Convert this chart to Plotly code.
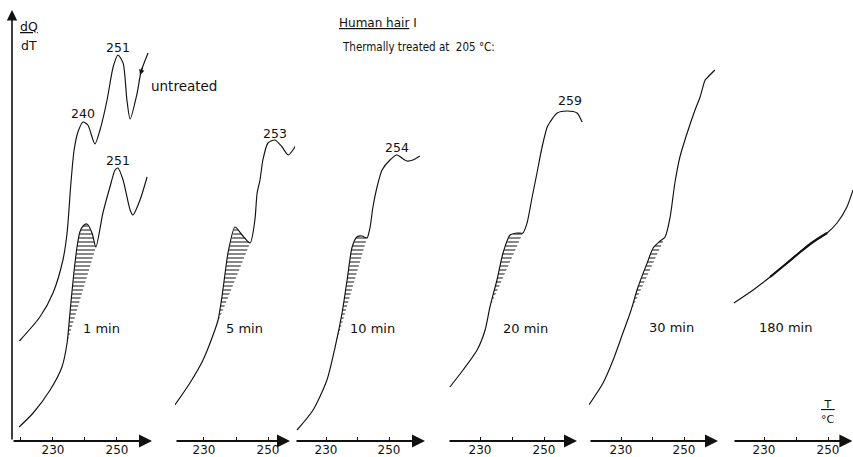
import numpy as np
import plotly.graph_objects as go

# ---------------- data (T in °C, dQ/dT in arbitrary units) ----------------
T_untreated = [219.5, 225.9, 230.0, 233.1, 234.4, 235.6, 236.6, 237.8, 239.4, 240.9, 243.1, 244.7,
               246.9, 248.8, 250.3, 251.9, 253.1, 254.1, 256.3, 257.5, 259.7]
Q_untreated = [10.0, 12.4, 14.8, 18.1, 20.8, 25.8, 29.1, 30.9, 31.9, 31.6, 29.7, 31.1,
               34.1, 37.4, 38.6, 37.8, 34.1, 32.2, 34.8, 36.9, 38.8]

T_1min = [219.4, 223.8, 229.1, 232.8, 234.4, 235.3, 236.3, 237.5, 238.4, 239.4, 240.6, 242.2, 243.4,
          245.6, 247.8, 249.4, 250.3, 251.9, 254.1, 255.0, 257.2, 259.4]
Q_1min = [1.4, 2.8, 5.1, 7.4, 9.8, 12.8, 16.1, 19.4, 20.9, 21.5, 21.7, 20.8, 19.4,
          22.8, 25.4, 27.1, 27.3, 26.1, 23.1, 22.6, 24.1, 26.4]

T_5min = [220.9, 225.6, 229.7, 233.4, 234.4, 235.6, 236.6, 237.5, 239.7, 241.9, 244.4, 245.9, 246.6,
          247.5, 248.4, 250.0, 252.2, 254.4, 256.3, 257.8, 259.1]
Q_5min = [3.6, 5.8, 8.1, 11.1, 12.1, 14.4, 16.8, 18.8, 21.4, 20.6, 19.8, 22.1, 24.8,
          26.1, 28.1, 29.8, 30.1, 29.4, 28.6, 29.1, 29.8]

T_10min = [220.8, 225.9, 230.3, 232.9, 235.1, 236.7, 238.3, 239.8, 241.4, 243.0, 244.0, 244.9,
           246.2, 247.8, 250.3, 252.5, 254.1, 255.7, 257.6, 259.8]
Q_10min = [1.1, 3.1, 6.1, 9.4, 12.8, 16.1, 19.4, 20.4, 20.5, 20.3, 21.4, 23.4,
           25.4, 27.1, 28.1, 28.6, 28.3, 28.0, 28.1, 28.5]

T_20min = [220.6, 224.7, 229.1, 231.6, 233.1, 235.3, 237.2, 239.4, 241.6, 243.4, 244.7, 246.3,
           247.8, 249.4, 251.0, 251.9, 254.1, 257.2, 260.3, 261.9]
Q_20min = [5.4, 7.1, 9.1, 11.1, 13.4, 16.1, 18.8, 20.6, 20.8, 20.8, 21.8, 24.4,
           26.8, 29.4, 31.4, 31.9, 32.8, 33.0, 32.8, 31.9]

T_30min = [219.8, 224.3, 227.5, 230.6, 232.9, 235.4, 238.3, 240.2, 242.4, 244.0, 245.6, 247.1,
           248.7, 251.0, 253.5, 255.1, 256.7, 257.6, 259.8]
Q_30min = [3.6, 5.8, 8.1, 10.8, 12.8, 15.4, 17.8, 19.3, 20.0, 20.4, 22.4, 25.8,
           28.4, 30.8, 33.1, 34.4, 36.1, 36.4, 37.1]

T_180min = [220.6, 226.6, 231.9, 237.2, 241.3, 245.3, 249.7, 252.8, 255.9, 257.8]
Q_180min = [13.8, 15.1, 16.4, 17.8, 18.9, 19.9, 20.8, 21.8, 23.4, 25.1]

# hatched (shaded) temperature intervals
hatch_1min = (234.4, 243.4)
hatch_5min = (233.4, 244.4)
hatch_10min = (232.9, 243.0)
hatch_20min = (233.1, 243.4)
hatch_30min = (232.9, 244.0)
band_180min = (231.9, 249.7)

tick_vals = [220, 230, 240, 250]
tick_text = ["", "230", "", "250"]

# ---------------- figure ----------------
W, H = 853, 457
FONT = "DejaVu Sans"
INK = "#111111"

# panel layout: (domain px left, domain px right, range start, range end, arrow end)
panels = [
    (12, 152, 217.19, 260.94, 260.94),
    (175, 300, 220.94, 260.0, 256.88),
    (295, 425, 220.16, 261.43, 261.43),
    (448, 585, 220.0, 262.81, 260.31),
    (589, 718, 219.84, 260.79, 260.79),
    (733, 853, 220.31, 257.8, 257.6),
]

fig = go.Figure()


def ax_id(i):
    return "x" if i == 0 else f"x{i + 1}"


def add_curve(i, T, Q, width=1.15):
    fig.add_trace(go.Scatter(x=T, y=Q, xaxis=ax_id(i), yaxis="y", mode="lines",
                             line=dict(color=INK, width=width, shape="spline", smoothing=0.7),
                             hoverinfo="skip", showlegend=False))


def add_hatch(i, T, Q, rng):
    T = np.asarray(T, float)
    Q = np.asarray(Q, float)
    m = (T >= rng[0] - 1e-9) & (T <= rng[1] + 1e-9)
    xs = list(T[m]) + [T[m][0]]
    ys = list(Q[m]) + [Q[m][0]]
    fig.add_trace(go.Scatter(x=xs, y=ys, xaxis=ax_id(i), yaxis="y", mode="lines",
                             fill="toself", line=dict(width=0, color=INK),
                             fillcolor="rgba(0,0,0,0)",
                             fillpattern=dict(shape="-", fgcolor=INK, bgcolor="white",
                                              size=4, solidity=0.5),
                             hoverinfo="skip", showlegend=False))


# hatches first so curves sit on top
add_hatch(0, T_1min, Q_1min, hatch_1min)
add_hatch(1, T_5min, Q_5min, hatch_5min)
add_hatch(2, T_10min, Q_10min, hatch_10min)
add_hatch(3, T_20min, Q_20min, hatch_20min)
add_hatch(4, T_30min, Q_30min, hatch_30min)

add_curve(0, T_untreated, Q_untreated)
add_curve(0, T_1min, Q_1min)
add_curve(1, T_5min, Q_5min)
add_curve(2, T_10min, Q_10min)
add_curve(3, T_20min, Q_20min)
add_curve(4, T_30min, Q_30min)
add_curve(5, T_180min, Q_180min)

# thickened (dark) band on the 180 min trace
Tb = np.asarray(T_180min)
mb = (Tb >= band_180min[0]) & (Tb <= band_180min[1])
fig.add_trace(go.Scatter(x=Tb[mb], y=np.asarray(Q_180min)[mb], xaxis="x6", yaxis="y", mode="lines",
                         line=dict(color=INK, width=2.2, shape="spline"),
                         hoverinfo="skip", showlegend=False))

layout = dict(
    width=W, height=H, autosize=False,
    margin=dict(l=0, r=0, t=0, b=16),
    paper_bgcolor="white", plot_bgcolor="white",
    showlegend=False,
    yaxis=dict(range=[0, 44.1], domain=[0, 1], visible=False, fixedrange=True, anchor="x"),
)

annotations = []
for i, (p0, p1, r0, r1, aend) in enumerate(panels):
    key = "xaxis" if i == 0 else f"xaxis{i + 1}"
    layout[key] = dict(
        domain=[p0 / W, p1 / W], range=[r0, r1], anchor="y",
        showline=False, showgrid=False, zeroline=False,
        tickmode="array", tickvals=tick_vals, ticktext=tick_text,
        ticks="inside", ticklen=4, tickwidth=1.2, tickcolor=INK,
        tickfont=dict(family=FONT, size=12, color=INK), fixedrange=True,
    )
    # axis baseline with arrow
    annotations.append(dict(
        x=aend, y=0, ax=r0, ay=0, xref=ax_id(i), yref="y", axref=ax_id(i), ayref="y",
        text="", showarrow=True, arrowhead=2, arrowsize=1.3, arrowwidth=2, arrowcolor=INK,
        standoff=0, startstandoff=0,
    ))

# vertical dQ/dT axis with arrow
annotations.append(dict(
    x=panels[0][2], y=43.1, ax=panels[0][2], ay=0, xref="x", yref="y", axref="x", ayref="y",
    text="", showarrow=True, arrowhead=2, arrowsize=1.3, arrowwidth=1.6, arrowcolor=INK,
    standoff=0, startstandoff=0,
))


def label(text, x, y, xref, size=12.5, xanchor="center", yref="y", family=FONT):
    annotations.append(dict(text=text, x=x, y=y, xref=xref, yref=yref, showarrow=False,
                            xanchor=xanchor, yanchor="middle",
                            font=dict(family=family, size=size, color=INK)))


# axis titles
label("<span style='text-decoration:underline'>dQ</span>", 29 / W, 41.5, "paper")
label("dT", 29 / W, 39.6, "paper")
label("<span style='text-decoration:underline'>&nbsp;T&nbsp;</span>", 828 / W, 3.7, "paper", size=11)
label("°C", 828 / W, 2.2, "paper", size=11)

# headings
label("<span style='text-decoration:underline'>Human hair</span> I", 337 / W, 41.8, "paper",
      xanchor="left", size=12)
label("Thermally treated at  205 °C:", 340 / W, 39.4, "paper", xanchor="left", size=11.5,
      family="Liberation Sans Narrow, DejaVu Sans Condensed, Liberation Sans")

# peak temperatures
label("240", 239.4, 32.8, "x")
label("251", 250.3, 39.4, "x")
label("251", 250.3, 28.1, "x")
label("untreated", 184 / W, 35.5, "paper", size=13.5)
label("253", 252.2, 30.8, "x2")
label("254", 252.5, 29.4, "x3")
label("259", 258.1, 34.1, "x4")

# treatment times
label("1 min", 245.3, 11.3, "x", size=13)
label("5 min", 242.8, 11.3, "x2", size=13)
label("10 min", 244.9, 11.3, "x3", size=13)
label("20 min", 244.1, 11.3, "x4", size=13)
label("30 min", 245.9, 11.4, "x5", size=13)
label("180 min", 236.6, 11.4, "x6", size=13)

# small direction mark on the untreated trace
annotations.append(dict(x=257.2, y=36.6, xref="x", yref="y", ax=3, ay=-9, text="",
                        showarrow=True, arrowhead=2, arrowsize=0.9, arrowwidth=1.2,
                        arrowcolor=INK, standoff=0))

layout["annotations"] = annotations
fig.update_layout(**layout)

fig.write_html("out.html")
